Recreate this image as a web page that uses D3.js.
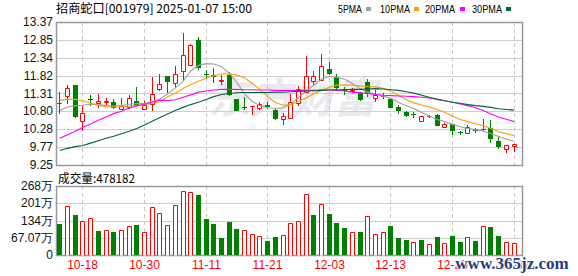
<!DOCTYPE html>
<html><head><meta charset="utf-8">
<script src="https://cdn.jsdelivr.net/npm/d3@7"></script>
<style>body{margin:0;background:#fff}svg{display:block}</style>
</head><body><svg id="c" width="578" height="276"></svg>
<script>
const stockTitle = "招商蛇口[001979] 2025-01-07 15:00";
const volumeTitle = "成交量:478182";
const dates = ["10-15","10-16","10-17","10-18","10-21","10-22","10-23","10-24","10-25","10-28","10-29","10-30","10-31","11-01","11-04","11-05","11-06","11-07","11-08","11-11","11-12","11-13","11-14","11-15","11-18","11-19","11-20","11-21","11-22","11-25","11-26","11-27","11-28","11-29","12-02","12-03","12-04","12-05","12-06","12-09","12-10","12-11","12-12","12-13","12-16","12-17","12-18","12-19","12-20","12-23","12-24","12-25","12-26","12-27","12-30","12-31","01-02","01-03","01-06","01-07"];
const open  = [11.03,11.24,11.55,10.51,11.14,11.03,11.07,11.06,10.87,10.91,11.10,10.87,11.02,11.45,11.81,11.61,11.95,12.14,12.85,11.86,11.85,11.68,11.85,11.14,10.92,10.95,10.89,10.97,10.83,10.57,10.61,11.03,11.35,11.66,11.70,12.02,11.79,11.45,11.37,11.31,11.63,11.19,11.23,11.16,10.91,10.79,10.72,10.52,10.66,10.69,10.35,10.42,10.19,10.16,10.29,10.29,10.32,9.94,9.72,9.81];
const high  = [11.35,11.56,11.56,10.95,11.28,11.30,11.18,11.16,11.18,11.26,11.50,11.10,11.79,11.86,11.82,12.10,13.05,12.74,12.93,11.98,12.05,11.83,11.93,11.15,11.21,10.96,11.07,11.07,10.85,10.76,11.30,11.52,12.39,11.96,12.45,12.23,11.86,11.50,11.47,11.35,11.72,11.40,11.31,11.17,10.99,10.82,10.78,10.66,10.69,10.71,10.45,10.44,10.23,10.40,10.32,10.58,10.56,10.06,9.83,9.85];
const low   = [10.73,11.02,10.60,10.23,10.95,10.89,10.97,10.85,10.85,10.85,10.94,10.83,10.82,11.37,11.32,11.47,11.68,12.12,12.00,11.74,11.61,11.55,11.24,10.81,10.84,10.68,10.83,10.86,10.54,10.39,10.61,10.95,11.33,11.55,11.69,11.83,11.45,11.26,11.31,11.09,11.22,11.07,11.14,10.89,10.73,10.62,10.61,10.52,10.59,10.37,10.32,10.11,10.12,10.16,10.17,10.22,9.89,9.71,9.61,9.62];
const close = [11.05,11.46,10.63,10.75,11.12,11.08,11.09,10.90,10.95,11.17,10.94,10.99,11.30,11.58,11.63,11.86,12.41,12.70,12.05,11.85,11.78,11.70,11.26,10.82,10.90,10.95,11.01,10.92,10.57,10.65,11.07,11.44,11.82,11.80,12.10,11.87,11.48,11.38,11.40,11.12,11.29,11.26,11.24,10.90,10.81,10.65,10.69,10.66,10.67,10.38,10.43,10.24,10.16,10.34,10.22,10.30,10.00,9.77,9.82,9.85];
const ma5  = [10.82,10.92,10.96,10.97,11.00,10.99,10.96,10.95,10.96,11.00,11.02,11.02,11.07,11.15,11.30,11.47,11.66,11.96,12.12,12.17,12.16,12.09,11.90,11.63,11.30,11.08,10.96,10.90,10.88,10.90,11.00,11.20,11.38,11.55,11.72,11.80,11.78,11.72,11.60,11.45,11.35,11.29,11.24,11.17,11.05,10.96,10.88,10.76,10.66,10.56,10.50,10.42,10.35,10.30,10.27,10.23,10.15,10.07,9.99,9.94];
const ma10 = [11.12,11.14,11.14,11.10,11.03,10.97,10.93,10.92,10.93,10.95,10.97,10.99,11.02,11.07,11.22,11.32,11.45,11.57,11.66,11.75,11.82,11.87,11.88,11.84,11.76,11.60,11.42,11.22,11.05,10.97,10.99,11.08,11.18,11.30,11.40,11.48,11.55,11.55,11.55,11.53,11.51,11.50,11.46,11.38,11.26,11.13,11.04,10.98,10.92,10.85,10.77,10.66,10.56,10.50,10.44,10.38,10.30,10.21,10.15,10.10];
const ma20 = [10.02,10.12,10.22,10.34,10.43,10.54,10.63,10.73,10.80,10.89,10.95,11.00,11.06,11.12,11.11,11.13,11.20,11.27,11.35,11.38,11.41,11.43,11.43,11.43,11.42,11.42,11.41,11.41,11.40,11.40,11.40,11.40,11.40,11.40,11.41,11.41,11.40,11.38,11.35,11.33,11.31,11.28,11.26,11.25,11.24,11.23,11.22,11.20,11.18,11.15,11.10,11.06,11.01,10.96,10.90,10.82,10.72,10.63,10.57,10.50];
const ma30 = [9.67,9.73,9.78,9.81,9.88,9.95,10.02,10.08,10.15,10.22,10.30,10.40,10.51,10.62,10.72,10.82,10.91,10.99,11.06,11.14,11.22,11.28,11.31,11.33,11.34,11.34,11.34,11.34,11.35,11.35,11.36,11.37,11.38,11.39,11.40,11.41,11.42,11.42,11.43,11.43,11.44,11.45,11.44,11.42,11.40,11.36,11.32,11.26,11.20,11.14,11.10,11.06,11.03,10.99,10.96,10.94,10.91,10.87,10.85,10.83];
const volume = [120.5,189.2,155.5,130.9,142.6,93.3,97.2,89.4,97.2,111.5,116.6,89.4,185.3,163.3,116.6,194.4,247.5,243.6,233.3,140.0,120.5,66.1,127.0,101.1,95.9,80.4,72.6,54.4,68.7,77.8,124.4,130.9,235.9,155.5,198.3,159.4,124.4,105.0,88.1,88.1,150.3,80.4,88.1,112.8,66.1,58.3,50.5,58.3,42.8,70.0,46.7,73.9,50.5,68.7,54.4,112.8,108.9,73.9,50.5,47.8];
const volumeUp = [0,1,0,1,1,0,1,0,1,1,0,1,1,1,1,1,1,1,0,0,0,0,0,0,1,1,1,0,0,1,1,1,1,0,1,0,0,0,1,0,1,1,1,0,0,0,1,0,1,0,1,0,0,1,0,1,0,0,1,1];
const priceTicks = ["13.37","12.85","12.34","11.82","11.31","10.80","10.28","9.77","9.25"];
const volumeTicks = [268.28,201.21,134.14,67.07,0];
const volumeTickLabels = ["268万","201万","134万","67.07万","0"];
const xTickDates = ["10-18","10-30","11-11","11-21","12-03","12-13","12-25","01-07"];
const maNames = ["5PMA","10PMA","20PMA","30PMA"];

const svg = d3.select("#c");
const L = 56, R = 522, T1 = 22, B1 = 165, T2 = 186, B2 = 255;
const colUp = "#ff0000", colDn = "#008000";
const maColors = ["#a0a0a0","#f5a000","#ff00ff","#006633"];

const x = d3.scalePoint().domain(dates).range([L + 3.85, R - 8]);
const y = d3.scaleLinear().domain([9.25, 13.37]).range([B1, T1]);
const yv = d3.scaleLinear().domain([0, 268.28]).range([B2, T2]);
const bw = Math.round(x.step() * 0.65);

// watermark
svg.append("text").attr("x", 292).attr("y", 113).attr("text-anchor","middle")
  .attr("font-family","Noto Sans CJK SC").attr("font-weight","bold").attr("font-size",42)
  .attr("font-style","italic").attr("fill","#e9e9ee").text("东方财富");

// grids
const g = svg.append("g");
priceTicks.forEach(t => {
  const yy = Math.round(y(+t)) + 0.5;
  g.append("line").attr("x1", L).attr("x2", R).attr("y1", yy).attr("y2", yy).attr("stroke","#cfcfcf");
});
volumeTicks.forEach(t => {
  const yy = Math.round(yv(t)) + 0.5;
  g.append("line").attr("x1", L).attr("x2", R).attr("y1", yy).attr("y2", yy).attr("stroke","#cfcfcf");
});
xTickDates.forEach(d => {
  const xx = Math.floor(x(d)) + 0.5;
  g.append("line").attr("x1", xx).attr("x2", xx).attr("y1", T1).attr("y2", B1).attr("stroke","#c8c8c8").attr("stroke-dasharray","4,3");
  g.append("line").attr("x1", xx).attr("x2", xx).attr("y1", T2).attr("y2", B2).attr("stroke","#c8c8c8").attr("stroke-dasharray","4,3");
});

// frames
[[T1,B1],[T2,B2]].forEach(([t,b]) => {
  svg.append("rect").attr("x", L + 0.5).attr("y", t + 0.5).attr("width", R - L).attr("height", b - t)
    .attr("fill","none").attr("stroke","#999").attr("stroke-width",1.5);
});

// candles
const cg = svg.append("g");
dates.forEach((d, i) => {
  const pc = Math.floor(x(d));
  const up = close[i] >= open[i];
  const col = up ? colUp : colDn;
  const yt = Math.round(y(Math.max(open[i], close[i])));
  const yb = Math.round(y(Math.min(open[i], close[i])));
  const yh = Math.round(y(high[i])), yl = Math.round(y(low[i]));
  const half = Math.floor(bw / 2);
  if (up) {
    if (yh < yt) cg.append("line").attr("x1", pc + 0.5).attr("x2", pc + 0.5).attr("y1", yh).attr("y2", yt).attr("stroke", col);
    if (yl > yb) cg.append("line").attr("x1", pc + 0.5).attr("x2", pc + 0.5).attr("y1", yb + 1).attr("y2", yl).attr("stroke", col);
    const x0 = pc - half + 0.5, x1 = pc + half + 0.5;
    cg.append("path").attr("d", `M${x0},${yt + 0.5}H${x1}V${yb + 0.5}H${x0}Z`)
      .attr("fill","#fff").attr("stroke", col);
  } else {
    cg.append("line").attr("x1", pc + 0.5).attr("x2", pc + 0.5).attr("y1", yh).attr("y2", yl).attr("stroke", col);
    cg.append("rect").attr("x", pc - half).attr("y", yt).attr("width", bw).attr("height", Math.max(1, yb - yt)).attr("fill", col);
  }
});

// MA lines
[ma5, ma10, ma20, ma30].forEach((arr, k) => {
  const line = d3.line().x((v, i) => x(dates[i])).y(v => y(v));
  svg.append("path").attr("d", line(arr)).attr("fill","none").attr("stroke", maColors[k]).attr("stroke-width", 1.1);
});

// volume bars
const vg = svg.append("g");
dates.forEach((d, i) => {
  const pc = Math.floor(x(d));
  const half = Math.floor(bw / 2);
  const yt = Math.round(yv(volume[i]));
  if (volumeUp[i]) {
    const x0 = pc - half + 0.5, x1 = pc + half + 0.5;
    vg.append("path").attr("d", `M${x0},${B2 + 0.5}V${yt + 0.5}H${x1}V${B2 + 0.5}`)
      .attr("fill","#fff").attr("stroke", colUp);
  } else {
    vg.append("rect").attr("x", pc - half).attr("y", yt).attr("width", bw).attr("height", B2 - yt).attr("fill", colDn);
  }
});

// axis labels
const lab = svg.append("g").attr("font-family","Liberation Sans, Arial, sans-serif").attr("font-size",12).attr("fill","#111");
priceTicks.forEach(t => {
  lab.append("text").attr("x", 53).attr("y", y(+t)).attr("dy","0.35em").attr("text-anchor","end").text(t);
});
volumeTicks.forEach((t, k) => {
  lab.append("text").attr("x", 53).attr("y", yv(t)).attr("dy","0.35em").attr("text-anchor","end").text(volumeTickLabels[k]);
});
xTickDates.forEach(d => {
  lab.append("text").attr("x", Math.floor(x(d)) + 0.5).attr("y", 269).attr("text-anchor","middle").attr("fill","#ff0000").text(d);
});

// titles
svg.append("text").attr("x", 56).attr("y", 13).attr("font-family","Noto Sans CJK SC").attr("font-size",12)
  .attr("textLength",196).attr("lengthAdjust","spacingAndGlyphs").attr("fill","#000").text(stockTitle);
svg.append("text").attr("x", 58).attr("y", 182.5).attr("font-family","Noto Sans CJK SC").attr("font-size",12)
  .attr("textLength",77).attr("lengthAdjust","spacingAndGlyphs").attr("fill","#000").text(volumeTitle);

// legend
const legX = [338, 380, 425, 472];
const legSq = [366, 414, 460, 506];
maNames.forEach((n, k) => {
  svg.append("text").attr("x", legX[k]).attr("y", 13).attr("font-family","Liberation Sans, Arial").attr("font-size",11)
    .attr("textLength", n.length * 6).attr("lengthAdjust","spacingAndGlyphs").attr("fill","#000").text(n);
  svg.append("rect").attr("x", legSq[k]).attr("y", 7).attr("width",5).attr("height",4).attr("fill", maColors[k]);
});

// site watermark
svg.append("text").attr("x", 512).attr("y", 269).attr("text-anchor","middle")
  .attr("font-family","Liberation Serif").attr("font-weight","bold").attr("font-size",17)
  .attr("fill","#1f3f7f").attr("stroke","#fff").attr("stroke-width",2).attr("paint-order","stroke")
  .text("www.365jz.com");
</script></body></html>
